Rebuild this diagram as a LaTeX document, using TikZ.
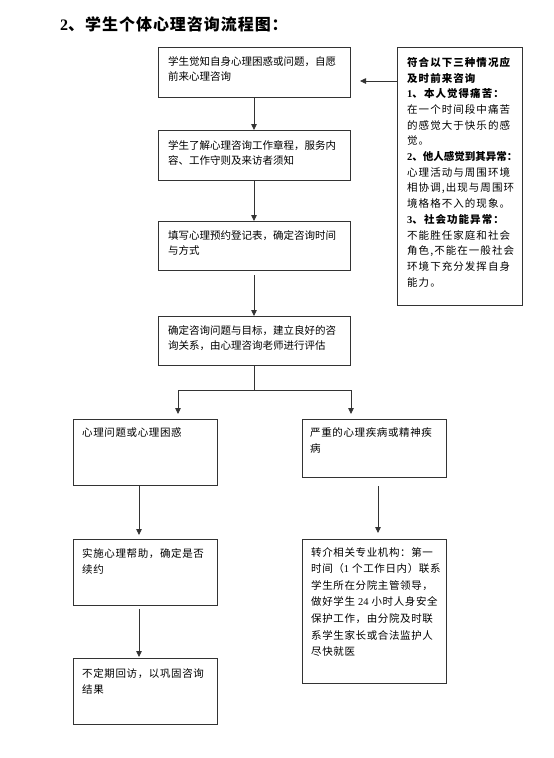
\documentclass[tikz,border=0pt]{standalone}
\usepackage{fontspec}
\setmainfont{Liberation Serif}
\newfontfamily\cjk{Noto Sans CJK SC}
\newfontfamily\cjkm{Noto Sans CJK SC}[LetterSpace=6]
\newfontfamily\cjkr{Noto Sans CJK SC}[LetterSpace=10]
\newfontfamily\cjkt{Noto Sans CJK SC}[LetterSpace=6]
\usetikzlibrary{arrows.meta}
\tikzset{
  box/.style={draw=black!80, line width=0.8pt, anchor=north west, inner sep=0pt, outer sep=0pt},
  txt/.style={anchor=north west, inner sep=0pt, align=left, font=\cjk\fontsize{10.5}{15.7}\selectfont},
  txtm/.style={txt, font=\cjkm\fontsize{10.5}{16.2}\selectfont},
  txtr/.style={txt, font=\cjkr\fontsize{10.5}{15.7}\selectfont},
  conn/.style={draw=black!80, line width=0.8pt},
  arr/.style={conn, -{Triangle[width=5.5pt,length=6pt]}},
}
\begin{document}
\begin{tikzpicture}[x=1pt,y=-1pt]
\useasboundingbox[fill=white] (0,0) rectangle (554,758);
% title
\node[anchor=west, inner sep=0pt] (title) at (60,24.5)
  {\bfseries\fontsize{16}{18}\selectfont{\rmfamily 2}\cjkt 、学生个体心理咨询流程图：};
% boxes
\node[box, minimum width=192pt, minimum height=50pt] (b1) at (158,47) {};
\node[box, minimum width=192pt, minimum height=50pt] (b2) at (158,130) {};
\node[box, minimum width=192pt, minimum height=49pt] (b3) at (158,221) {};
\node[box, minimum width=192pt, minimum height=49pt] (b4) at (158,316) {};
\node[box, minimum width=144pt, minimum height=66pt] (b5) at (73,419) {};
\node[box, minimum width=144pt, minimum height=58pt] (b6) at (302,419) {};
\node[box, minimum width=144pt, minimum height=66pt] (b7) at (73,539) {};
\node[box, minimum width=144pt, minimum height=66pt] (b8) at (73,658) {};
\node[box, minimum width=144pt, minimum height=144pt] (b9) at (302,539) {};
\node[box, minimum width=125pt, minimum height=258pt] (R) at (397,47) {};
% texts
\node[txt] (t1) at (168,56) {学生觉知自身心理困惑或问题，自愿\\前来心理咨询};
\node[txt] (t2) at (168,140) {学生了解心理咨询工作章程，服务内\\容、工作守则及来访者须知};
\node[txt] (t3) at (168,230) {填写心理预约登记表，确定咨询时间\\与方式};
\node[txt] (t4) at (168,325) {确定咨询问题与目标，建立良好的咨\\询关系，由心理咨询老师进行评估};
\node[txtm] (t5) at (82,427) {心理问题或心理困惑};
\node[txtm] (t6) at (310,427) {严重的心理疾病或精神疾\\病};
\node[txtm] (t7) at (82,548) {实施心理帮助，确定是否\\续约};
\node[txtm] (t8) at (82,668) {不定期回访，以巩固咨询\\结果};
\node[txtm, font=\cjkm\fontsize{10.5}{16.6}\selectfont] (t9) at (311,547)
  {转介相关专业机构：第一\\时间（{\rmfamily 1} 个工作日内）联系\\学生所在分院主管领导，\\做好学生 {\rmfamily 24} 小时人身安全\\保护工作，由分院及时联\\系学生家长或合法监护人\\尽快就医};
\node[txtr] (tr) at (407,57)
  {\bfseries 符合以下三种情况应\\\bfseries 及时前来咨询\\\bfseries{\rmfamily 1}、本人觉得痛苦：\\在一个时间段中痛苦\\的感觉大于快乐的感\\觉。\\\bfseries\cjk{\rmfamily 2}、他人感觉到其异常：\\心理活动与周围环境\\相协调,出现与周围环\\境格格不入的现象。\\\bfseries{\rmfamily 3}、社会功能异常：\\不能胜任家庭和社会\\角色,不能在一般社会\\环境下充分发挥自身\\能力。};
% connectors
\draw[arr] (b1) -- (b2);
\draw[arr] (b2) -- (b3);
\draw[arr, shorten <=5pt] (b3) -- (b4);
\coordinate (j) at (254,390);
\coordinate (jl) at (178,390);
\coordinate (jr) at (351,390);
\draw[conn] (b4) -- (j);
\draw[conn] (jl) -- (jr);
\draw[arr, shorten >=5pt] (jl) -- (jl |- b5.north);
\draw[arr, shorten >=5pt] (jr) -- (jr |- b6.north);
\draw[arr, shorten >=4pt] ([xshift=-6pt]b5.south) -- ([xshift=-6pt]b7.north);
\draw[arr, shorten <=4pt, shorten >=1pt] ([xshift=-6pt]b7.south) -- ([xshift=-6pt]b8.north);
\draw[arr, shorten <=9pt, shorten >=6pt] ([xshift=4pt]b6.south) -- ([xshift=4pt]b9.north);
\coordinate (ra) at (397,81);
\draw[arr, shorten >=10pt] (R.west |- ra) -- (b1.east |- ra);
\end{tikzpicture}
\end{document}
